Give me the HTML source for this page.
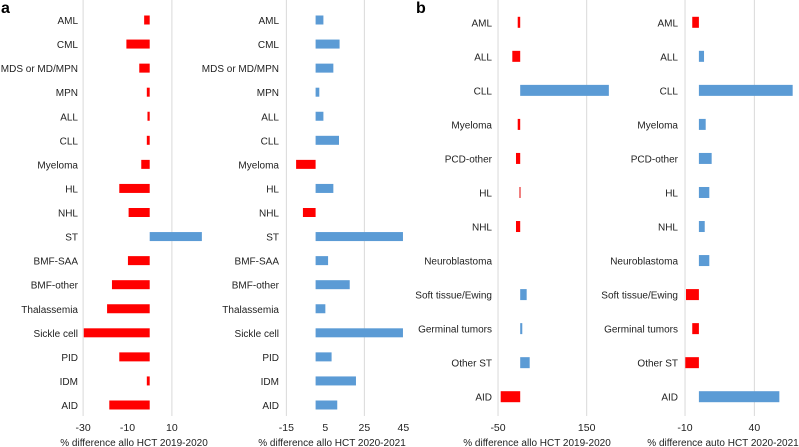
<!DOCTYPE html>
<html><head><meta charset="utf-8"><style>
body{margin:0;background:#fff;}
svg{display:block;font-family:"Liberation Sans",Arial,sans-serif;}
</style></head><body>
<svg id="chart" width="799" height="447" viewBox="0 0 799 447"></svg>
<script>
const catsA=["AML","CML","MDS or MD/MPN","MPN","ALL","CLL","Myeloma","HL","NHL","ST","BMF-SAA","BMF-other","Thalassemia","Sickle cell","PID","IDM","AID"];
const allo1920A=[-2.5,-10.5,-4.7,-1.3,-1,-1.3,-3.8,-13.7,-9.5,23.5,-9.8,-17,-19.2,-29.7,-13.7,-1.3,-18.2];
const allo2021A=[4,12.3,9.1,1.9,4,12,-10,9.1,-6.5,44.8,6.4,17.5,5,44.8,8.2,20.7,11.1];
const catsB=["AML","ALL","CLL","Myeloma","PCD-other","HL","NHL","Neuroblastoma","Soft tissue/Ewing","Germinal tumors","Other ST","AID"];
const allo1920B=[-5.6,-17.8,200,-5.6,-9.5,-2.7,-9.5,0,14.6,4.7,21.4,-44];
const auto2021B=[-4.8,3.7,67.6,4.9,9.2,7.5,4.2,7.5,-9.3,-4.8,-9.8,58];
const ticks1=[-30,-10,10];
const ticks2=[-15,5,25,45];
const ticks3=[-50,150];
const ticks4=[-10,40];
const grid1=[-30,10];
const grid2=[-15,25];
const grid3=[-50,150];
const grid4=[-10,40];

const svg=document.getElementById('chart');
const NS='http://www.w3.org/2000/svg';
function mk(tag,attrs,parent){const e=document.createElementNS(NS,tag);for(const k in attrs)e.setAttribute(k,attrs[k]);(parent||svg).appendChild(e);return e;}

function panel(name,cats,vals,ticks,grid,o){
  const g=mk('g',{});
  
  
  const x=v=>o.x0+v*o.k;
  grid.forEach(t=>{
    const l=mk('line',{x1:x(t),x2:x(t),y1:0,y2:416,stroke:'#d9d9d9','stroke-width':1},g);
    
    
  });
  const step=(o.yLast-o.yFirst)/(cats.length-1);
  cats.forEach((c,i)=>{
    const y=o.yFirst+i*step;
    const t=mk('text',{x:o.lx,y:y+4,'text-anchor':'end','font-size':10,fill:'#222'},g);
    t.textContent=c;
    
    
    const v=vals[i];
    if(v!==0){
      const x1=Math.min(x(0),x(v)),w=Math.abs(x(v)-x(0));
      const col=v<0?(o.pale&&o.pale.includes(i)?'#f08080':'#ff0000'):'#5b9bd5';
      const r=mk('rect',{x:x1,y:y-o.bh/2,width:Math.max(w,2),height:o.bh,fill:col},g);
      
      
    }
  });
  ticks.forEach(tv=>{
    const t=mk('text',{x:x(tv),y:431,'text-anchor':'middle','font-size':10.5,fill:'#222'},g);
    t.textContent=tv;
    
    
  });
  const ti=mk('text',{x:o.tx,y:446,'text-anchor':'middle','font-size':10,fill:'#222'},g);
  ti.textContent=o.title;
  
  
}
panel('panel-a-allo-2019-2020',catsA,allo1920A,ticks1,grid1,{x0:149.7,k:2.22,yFirst:20,yLast:405,bh:9,lx:78,tx:134,title:'% difference allo HCT 2019-2020'});
panel('panel-a-allo-2020-2021',catsA,allo2021A,ticks2,grid2,{x0:315.6,k:1.95,yFirst:20,yLast:405,bh:9,lx:279,tx:332,title:'% difference allo HCT 2020-2021'});
panel('panel-b-allo-2019-2020',catsB,allo1920B,ticks3,grid3,{x0:520.2,k:0.4433,yFirst:22.3,yLast:396.7,bh:11,lx:492,tx:537,title:'% difference allo HCT 2019-2020',pale:[5]});
panel('panel-b-auto-2020-2021',catsB,auto2021B,ticks4,grid4,{x0:698.9,k:1.387,yFirst:22.3,yLast:396.7,bh:11,lx:678,tx:723,title:'% difference auto HCT 2020-2021'});

const a=mk('text',{x:1,y:13,'font-size':16,'font-weight':'bold',fill:'#000'});
a.textContent='a';


const b=mk('text',{x:416,y:13,'font-size':16,'font-weight':'bold',fill:'#000'});
b.textContent='b';


</script>
</body></html>
